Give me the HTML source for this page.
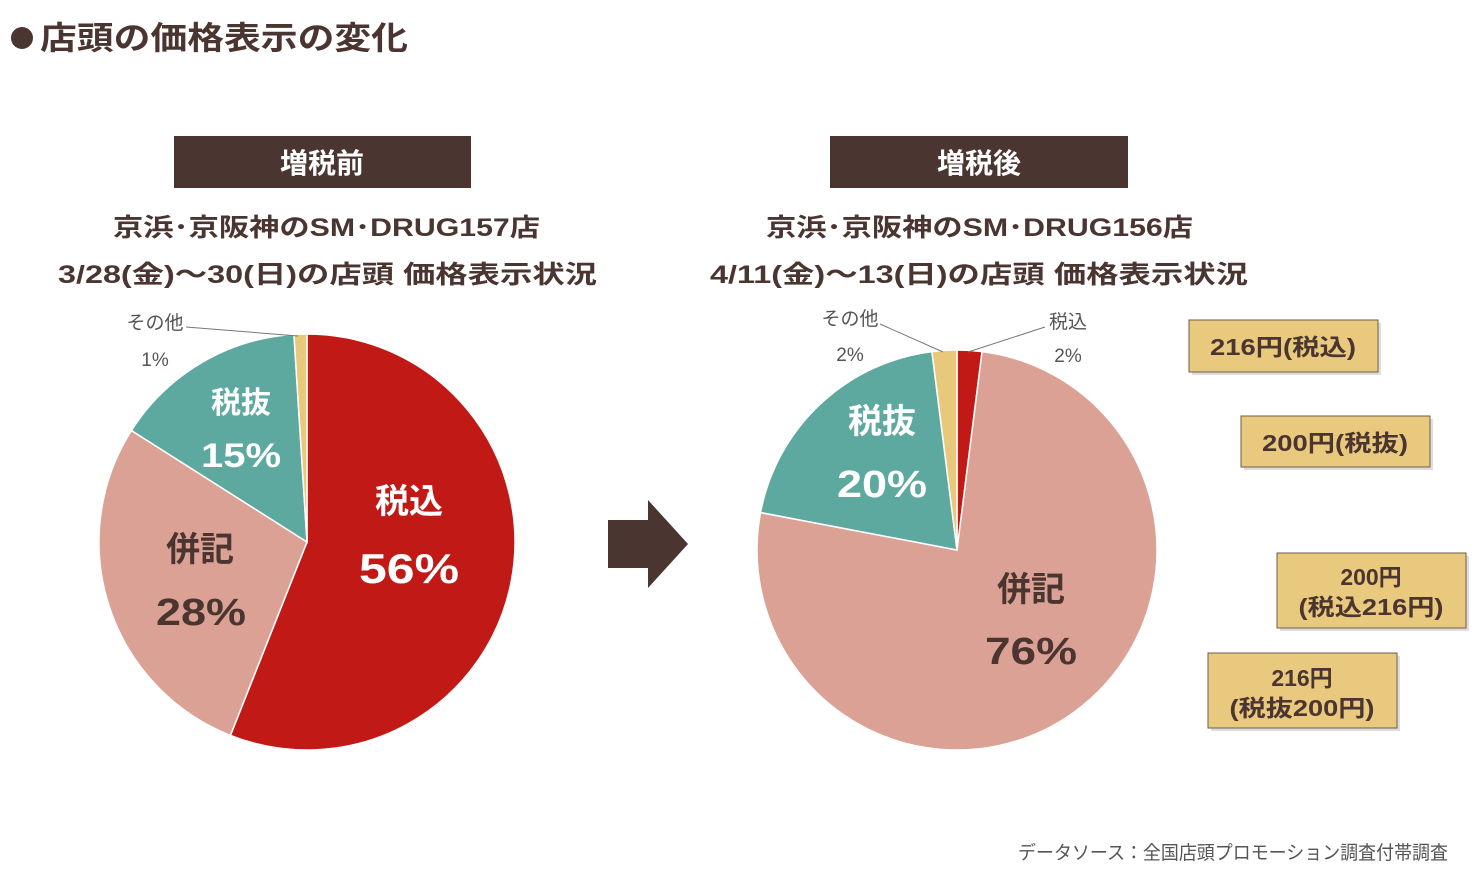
<!DOCTYPE html>
<html><head><meta charset="utf-8"><style>
body{margin:0;background:#fff;width:1480px;height:877px;overflow:hidden;font-family:"Liberation Sans","Noto Sans CJK JP",sans-serif}
svg text{font-family:"Liberation Sans","Noto Sans CJK JP",sans-serif}
</style></head><body>
<svg id="c" width="1480" height="877">
<circle cx="22" cy="38" r="11" fill="#4a3530"/>
<text x="40" y="49" font-size="32" font-weight="bold" fill="#4a3530" textLength="368" lengthAdjust="spacingAndGlyphs">店頭の価格表示の変化</text>
<rect x="174" y="136" width="297" height="52" fill="#4a3530"/>
<text x="322" y="173" font-size="28" font-weight="bold" fill="#fff" text-anchor="middle">増税前</text>
<rect x="830" y="136" width="298" height="52" fill="#4a3530"/>
<text x="979" y="173" font-size="28" font-weight="bold" fill="#fff" text-anchor="middle">増税後</text>
<g font-size="25" font-weight="bold" fill="#4a3530" lengthAdjust="spacingAndGlyphs">
<text x="113" y="236" textLength="427" lengthAdjust="spacingAndGlyphs">京浜･京阪神のSM･DRUG157店</text>
<text x="58" y="283" textLength="539" lengthAdjust="spacingAndGlyphs">3/28(金)～30(日)の店頭  価格表示状況</text>
<text x="766" y="236" textLength="427" lengthAdjust="spacingAndGlyphs">京浜･京阪神のSM･DRUG156店</text>
<text x="710" y="283" textLength="538" lengthAdjust="spacingAndGlyphs">4/11(金)～13(日)の店頭  価格表示状況</text>
</g>
<polygon points="608,520 648,520 648,500 688,544 648,588 648,568 608,568" fill="#4a3530"/>
<g id="pies"></g>
<g font-size="19" fill="#555">
<text x="155" y="329" text-anchor="middle">その他</text>
<text x="155" y="366" text-anchor="middle">1%</text>
<polyline points="186,327 298,336" fill="none" stroke="#777"/>
<text x="850" y="325" text-anchor="middle">その他</text>
<text x="850" y="361" text-anchor="middle">2%</text>
<polyline points="880,324 943,352" fill="none" stroke="#777"/>
<text x="1068" y="328" text-anchor="middle">税込</text>
<text x="1068" y="362" text-anchor="middle">2%</text>
<polyline points="1045,327 968,352" fill="none" stroke="#777"/>
</g>
<g font-size="34" font-weight="bold" text-anchor="middle">
<text x="409" y="513" fill="#fff">税込</text>
<text x="409" y="583" fill="#fff" font-size="42" textLength="100" lengthAdjust="spacingAndGlyphs">56%</text>
<text x="200" y="561" fill="#4a3530">併記</text>
<text x="201" y="625" fill="#4a3530" font-size="38" textLength="90" lengthAdjust="spacingAndGlyphs">28%</text>
<text x="241" y="413" fill="#fff" font-size="30">税抜</text>
<text x="241" y="467" fill="#fff" font-size="34" textLength="80" lengthAdjust="spacingAndGlyphs">15%</text>
<text x="882" y="433" fill="#fff">税抜</text>
<text x="882" y="497" fill="#fff" font-size="38" textLength="90" lengthAdjust="spacingAndGlyphs">20%</text>
<text x="1031" y="601" fill="#4a3530">併記</text>
<text x="1031" y="664" fill="#4a3530" font-size="38" textLength="92" lengthAdjust="spacingAndGlyphs">76%</text>
</g>
<g font-size="23" font-weight="bold" fill="#4a3530" text-anchor="middle">
<rect x="1192" y="323" width="189" height="52" fill="#bbb" opacity=".5"/>
<rect x="1189" y="320" width="189" height="52" fill="#e8c97e" stroke="#6e5d4a"/>
<text x="1283" y="355" textLength="146" lengthAdjust="spacingAndGlyphs">216円(税込)</text>
<rect x="1244" y="419" width="189" height="51" fill="#bbb" opacity=".5"/>
<rect x="1241" y="416" width="189" height="51" fill="#e8c97e" stroke="#6e5d4a"/>
<text x="1335" y="451" textLength="146" lengthAdjust="spacingAndGlyphs">200円(税抜)</text>
<rect x="1280" y="556" width="189" height="75" fill="#bbb" opacity=".5"/>
<rect x="1277" y="553" width="189" height="75" fill="#e8c97e" stroke="#6e5d4a"/>
<text x="1371" y="585">200円</text><text x="1371" y="615" textLength="145" lengthAdjust="spacingAndGlyphs">(税込216円)</text>
<rect x="1211" y="656" width="189" height="75" fill="#bbb" opacity=".5"/>
<rect x="1208" y="653" width="189" height="75" fill="#e8c97e" stroke="#6e5d4a"/>
<text x="1302" y="686">216円</text><text x="1302" y="716" textLength="145" lengthAdjust="spacingAndGlyphs">(税抜200円)</text>
</g>
<text x="1018" y="859" font-size="19" fill="#555" textLength="430" lengthAdjust="spacingAndGlyphs">データソース：全国店頭プロモーション調査付帯調査</text>
</svg>
<script>
const categories=["税込","併記","税抜","その他"];
const beforeValues=[56,28,15,1];
const afterValues=[2,76,20,2];
const colors=["#c11a16","#dba194","#5ea99f","#e8c87a"];
const g=document.getElementById('pies');
function drawPie(vals,cx,cy,r,prefix){
  const tot=vals.reduce((a,b)=>a+b,0);let a0=0;
  vals.forEach((v,i)=>{
    const a1=a0+v/tot*2*Math.PI;
    const x0=cx+r*Math.sin(a0),y0=cy-r*Math.cos(a0),x1=cx+r*Math.sin(a1),y1=cy-r*Math.cos(a1);
    const p=document.createElementNS('http://www.w3.org/2000/svg','path');
    p.setAttribute('d',`M${cx},${cy}L${x0},${y0}A${r},${r} 0 ${a1-a0>Math.PI?1:0} 1 ${x1},${y1}Z`);
    p.setAttribute('fill',colors[i]);p.setAttribute('stroke','#fff');p.setAttribute('stroke-width','1.5');
    
    
    g.appendChild(p);a0=a1;
  });
}
drawPie(beforeValues,307,542,208,'before');
drawPie(afterValues,957,550,200,'after');
</script>
</body></html>
